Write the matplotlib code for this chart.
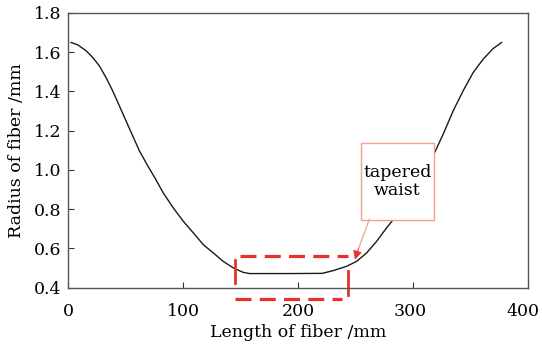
import matplotlib
matplotlib.use("Agg")
import matplotlib.pyplot as plt
from matplotlib.lines import Line2D
from matplotlib.patches import Rectangle
import matplotlib.transforms as mtransforms

plt.rcParams['font.family'] = ['DejaVu Serif']

length_mm = [2.6, 8.4, 15.7, 21.4, 27.2, 33, 38.8, 44.6, 50.4, 56.2, 62, 69.3, 76,
             82.9, 91.6, 100.3, 109, 117.7, 126.4, 135, 143.7, 152.4, 158,
             190, 221, 230.7, 242.3, 251, 259.7, 268.4, 277, 282.9, 300,
             318.3, 326.4, 335, 343.7, 352.4, 361.1, 369.8, 377.1]
radius_mm = [1.649, 1.637, 1.607, 1.573, 1.530, 1.471, 1.403, 1.327, 1.250, 1.174,
             1.098, 1.021, 0.955, 0.882, 0.806, 0.738, 0.679, 0.619, 0.577, 0.534,
             0.501, 0.478, 0.472, 0.472, 0.473, 0.487, 0.509, 0.534, 0.577, 0.636,
             0.704, 0.747, 0.91, 1.081, 1.183, 1.301, 1.403, 1.496, 1.564, 1.618,
             1.649]

x_ticks = [0, 100, 200, 300, 400]
y_ticks = [0.4, 0.6, 0.8, 1.0, 1.2, 1.4, 1.6, 1.8]
y_tick_labels = ['0.4', '0.6', '0.8', '1.0', '1.2', '1.4', '1.6', '1.8']

fig = plt.figure(figsize=(5.42, 3.46), dpi=100)
ax = fig.add_axes([0.1255, 0.1685, 0.8485, 0.7945])
ax.plot(length_mm, radius_mm, color='#1a1a1a', lw=1.0)

ax.set_xlim(0, 400)
ax.set_ylim(0.4, 1.8)
ax.set_xticks(x_ticks)
ax.set_yticks(y_ticks)
ax.set_yticklabels(y_tick_labels)
ax.tick_params(direction='in', length=4, width=0.8, labelsize=12.5, color='#333333',
               top=False, right=False)
ax.tick_params(axis='x', pad=11)
ax.tick_params(axis='y', pad=5)
for s in ax.spines.values():
    s.set_color('#555555')
    s.set_linewidth(1.0)

# nudge the last x tick labels inward so they stay inside the figure
lbls = ax.get_xticklabels()
lbls[-1].set_transform(lbls[-1].get_transform() +
                       mtransforms.ScaledTranslation(-5 / 100, 0, fig.dpi_scale_trans))
lbls[-2].set_transform(lbls[-2].get_transform() +
                       mtransforms.ScaledTranslation(-3 / 100, 0, fig.dpi_scale_trans))

ax.set_xlabel('Length of fiber /mm', fontsize=12.5, labelpad=3)
ax.set_ylabel('Radius of fiber /mm', fontsize=12.5, labelpad=6)

red = '#e8302a'
salmon = '#f4a090'
dash = (0, (5, 2.6))
# top dashed line
ax.add_line(Line2D([150, 243.5], [0.56, 0.56], color=red, lw=2.3, linestyle=dash, clip_on=False))
# bottom dashed line
ax.add_line(Line2D([145, 238], [0.344, 0.344], color=red, lw=2.3, linestyle=dash, clip_on=False))
# vertical segments
ax.add_line(Line2D([145, 145], [0.425, 0.543], color=red, lw=2.0, clip_on=False))
ax.add_line(Line2D([243.5, 243.5], [0.365, 0.483], color=red, lw=2.0, clip_on=False))

# annotation box
box_x0, box_x1 = 254.5, 318.3
box_y0, box_y1 = 0.747, 1.137
ax.add_patch(Rectangle((box_x0, box_y0), box_x1 - box_x0, box_y1 - box_y0,
                       fc='white', ec=salmon, lw=1.0, zorder=4))
ax.text((box_x0 + box_x1) / 2, (box_y0 + box_y1) / 2, 'tapered\nwaist',
        ha='center', va='center', fontsize=12.5, linespacing=1.05, zorder=5)
# arrow: salmon shaft, red head
ax.add_line(Line2D([262, 251.5], [0.747, 0.58], color=salmon, lw=0.9, zorder=5))
ax.annotate('', xy=(249.6, 0.543), xytext=(252.5, 0.6),
            arrowprops=dict(arrowstyle='-|>', lw=0.5, mutation_scale=14,
                            shrinkA=0, shrinkB=0, fc=red, ec=red),
            zorder=6)

fig.savefig('out.png', dpi=100)
